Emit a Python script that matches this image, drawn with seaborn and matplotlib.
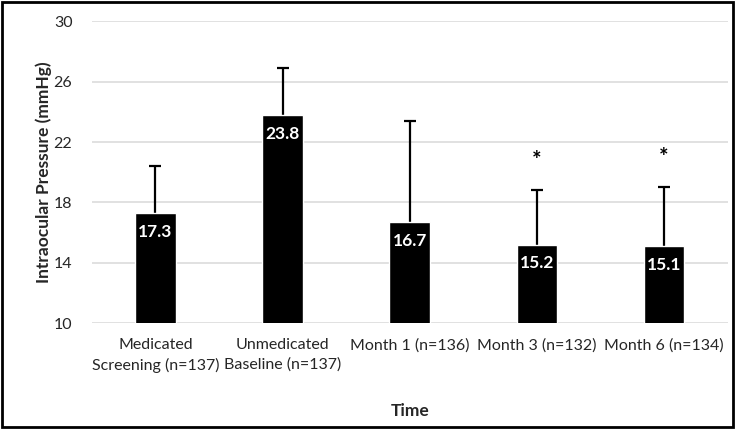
import matplotlib
matplotlib.use("Agg")
import matplotlib.pyplot as plt
import numpy as np
import pandas as pd
import seaborn as sns
from matplotlib.patches import Rectangle

categories = ["Medicated\nScreening (n=137)", "Unmedicated\nBaseline (n=137)",
              "Month 1 (n=136)", "Month 3 (n=132)", "Month 6 (n=134)"]
means = [17.3, 23.8, 16.7, 15.2, 15.1]
sds = [3.1, 3.1, 6.7, 3.6, 3.9]
significant = [False, False, False, True, True]

df = pd.DataFrame({"Time": categories, "IOP": means})

sns.set_theme(style="white")
plt.rcParams["font.family"] = ["Lato", "DejaVu Sans"]

fig, ax = plt.subplots(figsize=(7.35, 4.29), dpi=100)
fig.subplots_adjust(left=0.125, right=0.99, top=0.95, bottom=0.247)

sns.barplot(data=df, x="Time", y="IOP", color="black", width=0.32,
            saturation=1, ax=ax)
for p in ax.patches:
    p.set_zorder(3)

x = np.arange(len(categories))
eb = ax.errorbar(x, means, yerr=[np.zeros(len(sds)), sds], fmt="none",
                 ecolor="black", elinewidth=1.6, capsize=4, capthick=1.6, zorder=1)
# only keep the upper caps
for cap in eb[1]:
    if np.allclose(cap.get_ydata(), means):
        cap.set_visible(False)

for xi, m, s, sig in zip(x, means, sds, significant):
    ax.text(xi, m - 1.25, f"{m:.1f}", ha="center", va="center",
            color="white", fontsize=12.5, fontweight="bold", zorder=4)
    if sig:
        ax.text(xi, m + s + 2.0, "*", ha="center", va="center",
                color="black", fontsize=16, fontweight="bold", zorder=4)

ax.set_ylim(10, 30)
ax.set_yticks([10, 14, 18, 22, 26, 30])
ax.set_xlim(-0.5, len(categories) - 0.5)
ax.yaxis.grid(True, color="#d9d9d9", linewidth=1.1, zorder=0)
ax.set_axisbelow(True)
for sp in ax.spines.values():
    sp.set_visible(False)
ax.tick_params(axis="both", length=0, labelsize=11.5, colors="#262626")
ax.tick_params(axis="y", pad=14)
ax.tick_params(axis="x", pad=11)
for lbl in ax.get_xticklabels():
    lbl.set_linespacing(1.45)

ax.set_ylabel("Intraocular Pressure (mmHg)", fontsize=12.5, fontweight="bold",
              color="#262626", labelpad=1)
ax.set_xlabel("Time", fontsize=12.5, fontweight="bold", color="#262626",
              labelpad=22)

fig.patches.append(Rectangle((0.003, 0.005), 0.994, 0.99, transform=fig.transFigure,
                             fill=False, edgecolor="black", linewidth=2))

fig.savefig("out.png", dpi=100)
